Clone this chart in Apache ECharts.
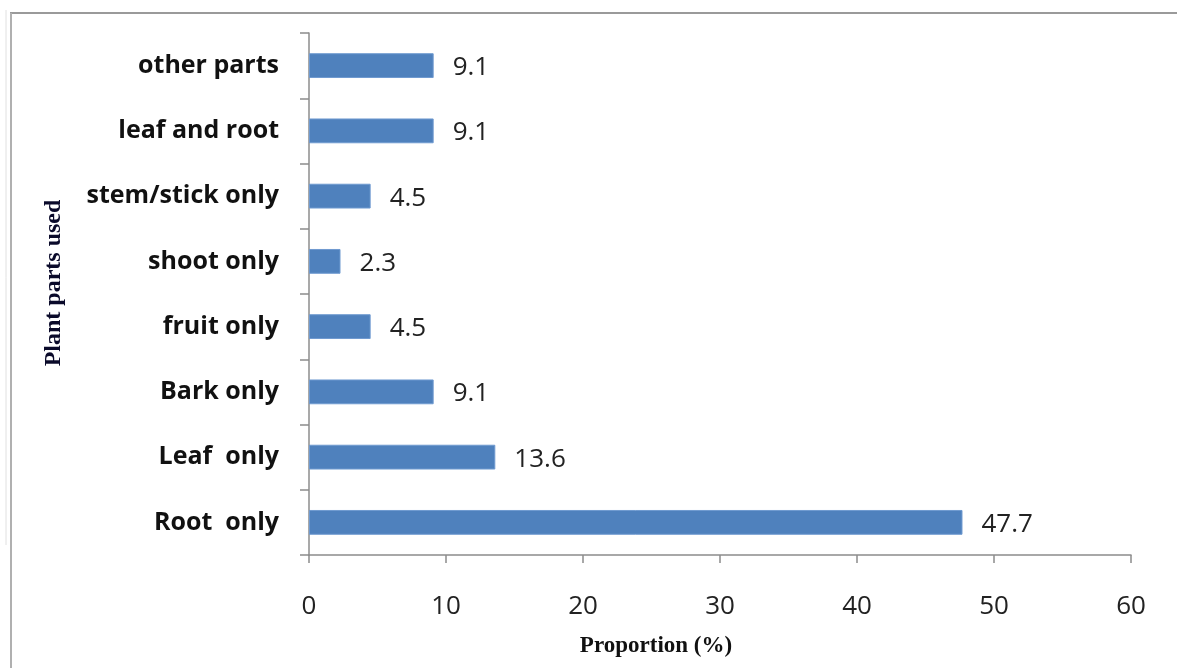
<!DOCTYPE html>
<html><head><meta charset="utf-8">
<script src="https://cdn.jsdelivr.net/npm/echarts@6/dist/echarts.min.js"></script>
<style>html,body{margin:0;padding:0;background:#fff}#c{width:1177px;height:668px}</style>
</head><body><div id="c"></div>
<script>
const categories = ['Root  only','Leaf  only','Bark only','fruit only','shoot only','stem/stick only','leaf and root','other parts'];
const values = [47.7, 13.6, 9.1, 4.5, 2.3, 4.5, 9.1, 9.1];
const xTicks = [0, 10, 20, 30, 40, 50, 60];

const chart = echarts.init(document.getElementById('c'), null, {renderer:'canvas'});
chart.setOption({
  animation:false,
  backgroundColor:'#fff',
  grid:{left:309, right:46, top:33, bottom:113, containLabel:false},
  xAxis:{
    type:'value', min:xTicks[0], max:xTicks[xTicks.length-1], interval:10,
    axisLine:{show:true, lineStyle:{color:'#8c8c8c', width:1.5}},
    axisTick:{show:true, length:8, lineStyle:{color:'#8c8c8c', width:1.5}},
    splitLine:{show:false},
    axisLabel:{color:'#222', fontSize:26, fontFamily:'Open Sans', margin:39},
    name:'Proportion (%)', nameLocation:'middle', nameGap:80,
    nameTextStyle:{fontFamily:'Liberation Serif', fontWeight:'bold', fontSize:23, color:'#111', padding:[0,128,0,0]}
  },
  yAxis:{
    type:'category', data:categories,
    axisLine:{show:true, lineStyle:{color:'#8c8c8c', width:1.5}},
    axisTick:{show:true, length:9, alignWithLabel:false, lineStyle:{color:'#8c8c8c', width:1.5}},
    axisLabel:{color:'#111', fontSize:25, fontWeight:'bold', fontFamily:'Open Sans', margin:30, padding:[4,0,0,0]},
    name:'Plant parts used', nameLocation:'middle', nameGap:243, nameRotate:90,
    nameTextStyle:{fontFamily:'Liberation Serif', fontWeight:'bold', fontSize:24, color:'#0a0a2a', padding:[0,0,0,22]}
  },
  series:[{
    type:'bar', data:values, barCategoryGap:'62%',
    itemStyle:{color:'#4f81bd', borderColor:'#6f9ad0', borderWidth:1},
    label:{show:true, position:'right', distance:19, offset:[0,2], color:'#222', fontSize:26, fontFamily:'Open Sans',
      formatter:p=>p.value.toFixed(1)}
  }],
  graphic:[
    {type:'line', shape:{x1:10,y1:13,x2:1177,y2:13}, style:{stroke:'#9a9a9a', lineWidth:2}},
    {type:'line', shape:{x1:11,y1:13,x2:11,y2:668}, style:{stroke:'#b0b0b0', lineWidth:2}},
    {type:'line', shape:{x1:6,y1:10,x2:6,y2:545}, style:{stroke:'#e0e0e0', lineWidth:1}}
  ]
});
</script></body></html>
